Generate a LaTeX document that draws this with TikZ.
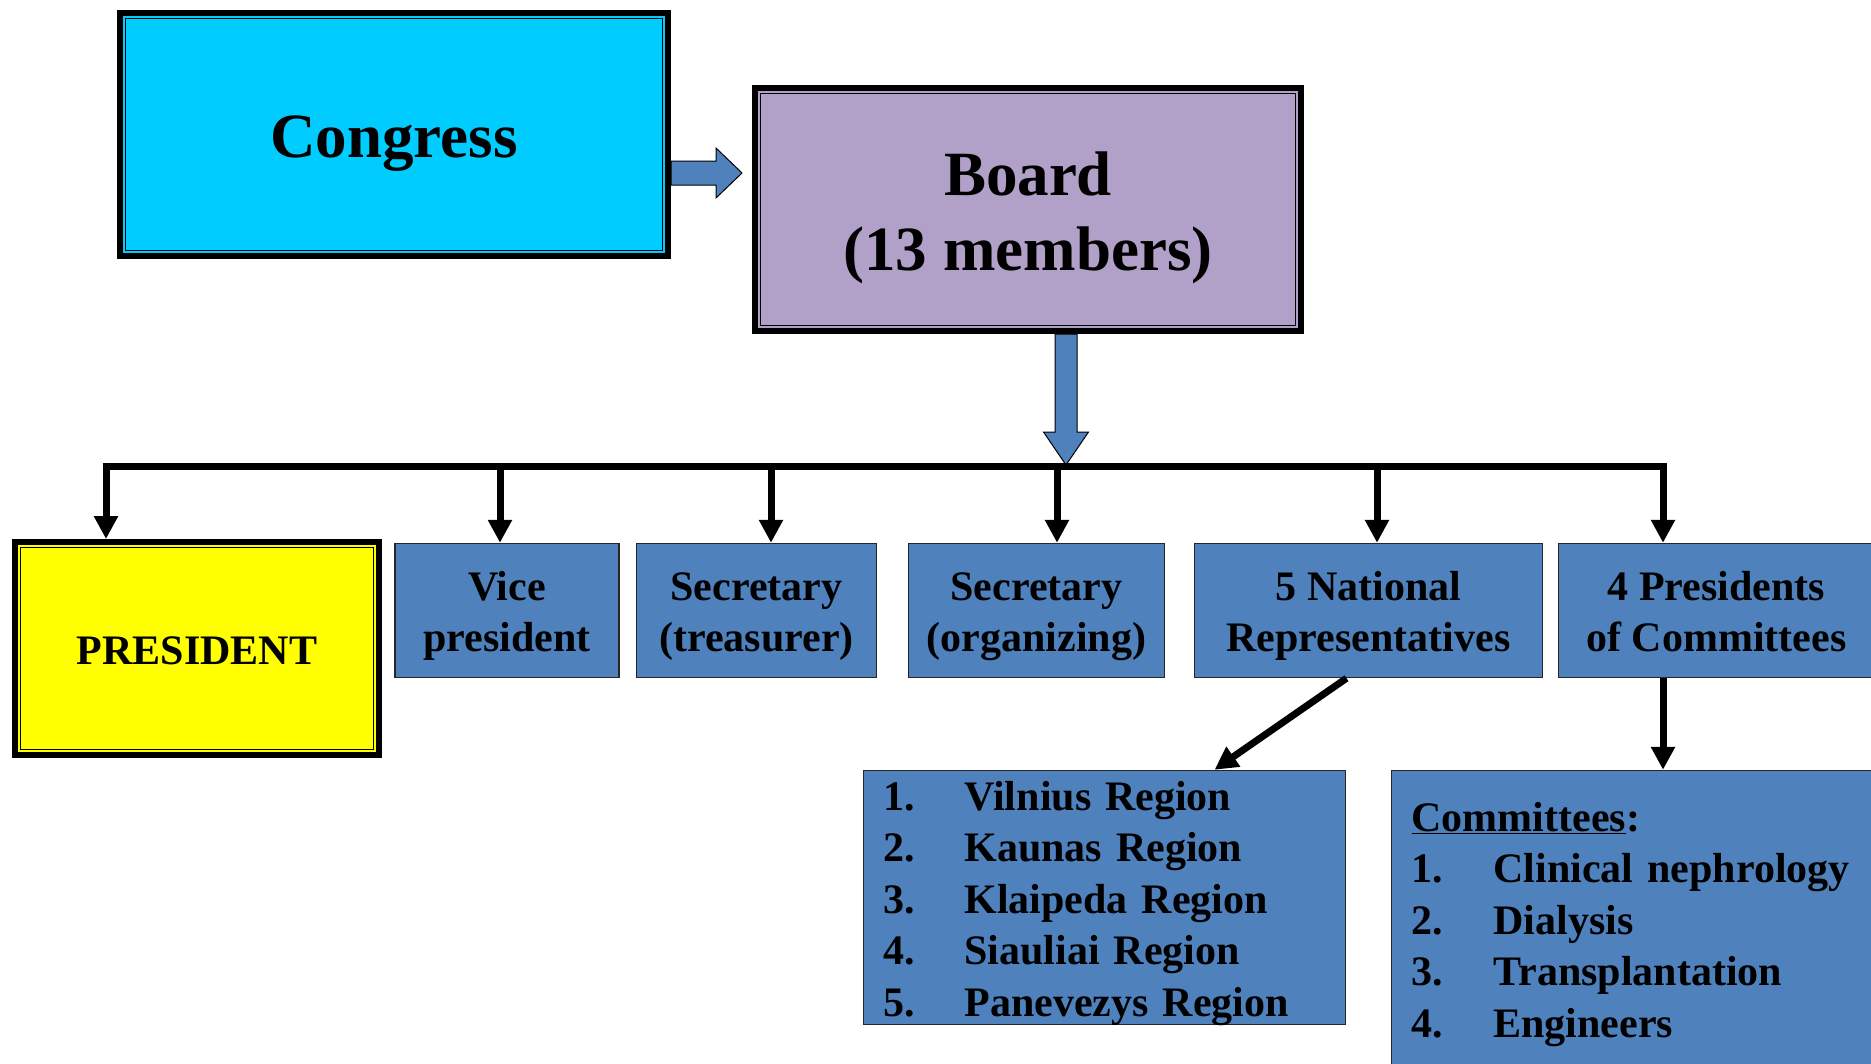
\documentclass[tikz,border=0pt]{standalone}
\usepackage{fontspec}
\setmainfont{Liberation Serif}
\usepackage{tikz}
\usetikzlibrary{arrows.meta,calc}
\definecolor{congcyan}{RGB}{0,204,255}
\definecolor{boardlilac}{RGB}{177,160,199}
\definecolor{unitblue}{RGB}{79,129,189}
\definecolor{presyellow}{RGB}{255,255,0}

\begin{document}
\begin{tikzpicture}[x=1pt, y=-1pt,
    struts/.style 2 args={execute at begin node={\rule{0pt}{#1}},
      execute at end node={\rule[-#2]{0pt}{0pt}}},
    frame/.style={draw, line width=6pt, align=center,
      path picture={\draw[line width=1.5pt]
        ([shift={(5.5,5.5)}]path picture bounding box.north west) rectangle
        ([shift={(-5.5,-5.5)}]path picture bounding box.south east);}},
    bigbox/.style={frame, font=\fontsize{63}{75}\selectfont\bfseries, struts={62pt}{16pt}},
    presbox/.style={frame, font=\fontsize{42}{51}\selectfont\bfseries, struts={41pt}{10pt}},
    bluebox/.style={draw=black!85, line width=1.5pt, fill=unitblue},
    unit/.style={bluebox, align=center, minimum height=134,
      font=\fontsize{42}{51}\selectfont\bfseries, struts={93pt}{12pt}},
    listbox/.style={bluebox, align=left, inner xsep=20pt, inner ysep=0pt,
      text height=35pt, text depth=209.5pt,
      font=\fontsize{42}{51.5}\selectfont\bfseries},
    bus/.style={line width=7pt, line cap=rect},
    drop/.style={line width=7pt, -{Triangle[width=23pt,length=23pt]}},
    blockarrow/.style={draw, line width=1pt, fill=unitblue, line join=miter}]
    \useasboundingbox (0,0) rectangle (1871,1063);
    \clip (0,0) rectangle (1871,1063);

    \node[bigbox, fill=congcyan, minimum width=548, minimum height=243] (cong) at (394,134.5) {Congress};
    \node[bigbox, struts={137pt}{16pt}, fill=boardlilac, minimum width=546, minimum height=243] (board) at (1028,209.5) {Board\\(13 members)};
    \node[presbox, fill=presyellow, minimum width=364, minimum height=213] (pres) at (197,648.5) {PRESIDENT};
    \node[unit, minimum width=224] (vice) at (507,610.5) {Vice\\president};
    \node[unit, minimum width=240] (sectr) at (756.5,610.5) {Secretary\\(treasurer)};
    \node[unit, minimum width=256] (secorg) at (1036.5,610.5) {Secretary\\(organizing)};
    \node[unit, minimum width=348] (natl) at (1368.5,610.5) {5 National\\Representatives};
    \node[unit, minimum width=316] (pcom) at (1716.5,610.5) {4 Presidents\\of Committees};
    \node[listbox, minimum width=482, minimum height=254, text width=442] (regs) at (1104.5,897.5)
      {\makebox[81pt][l]{1.}Vilnius Region\\
       \makebox[81pt][l]{2.}Kaunas Region\\
       \makebox[81pt][l]{3.}Klaipeda Region\\
       \makebox[81pt][l]{4.}Siauliai Region\\
       \makebox[81pt][l]{5.}Panevezys Region};
    \node[listbox, text depth=212.5pt, minimum width=498, minimum height=299, text width=458] (comm) at (1640.5,920)
      {\underline{Committees}:\\
       \makebox[82pt][l]{1.}Clinical nephrology\\
       \makebox[82pt][l]{2.}Dialysis\\
       \makebox[82pt][l]{3.}Transplantation\\
       \makebox[82pt][l]{4.}Engineers};

    \draw[blockarrow] ([yshift=-38.5pt]cong.east) ++(0,-12) -- ++(45,0) -- ++(0,-13)
      -- ++(26,25) -- ++(-26,25) -- ++(0,-13) -- ++(-45,0) -- cycle;
    \draw[blockarrow] ([xshift=38pt]board.south) ++(-11,0) -- ++(0,98) -- ++(-11.5,0)
      -- ++(22.5,33) -- ++(22.5,-33) -- ++(-11.5,0) -- ++(0,-98) -- cycle;

    \coordinate (t1) at (106,466);
    \coordinate (t2) at (500,466);
    \coordinate (t3) at (771,466);
    \coordinate (t4) at (1057,466);
    \coordinate (t5) at (1377,466);
    \coordinate (t6) at (1663,466);
    \draw[bus] (t1) -- (t6);

    \path[drop] (t1) edge (t1 |- pres.north)
          (t2) edge (t2 |- vice.north)
          (t3) edge (t3 |- sectr.north)
          (t4) edge (t4 |- secorg.north)
          (t5) edge (t5 |- natl.north)
          (t6) edge (t6 |- pcom.north)
          ([xshift=-22pt]natl.south) edge ([xshift=110pt]regs.north)
          (t6 |- pcom.south) edge (t6 |- comm.north);
\end{tikzpicture}
\end{document}
